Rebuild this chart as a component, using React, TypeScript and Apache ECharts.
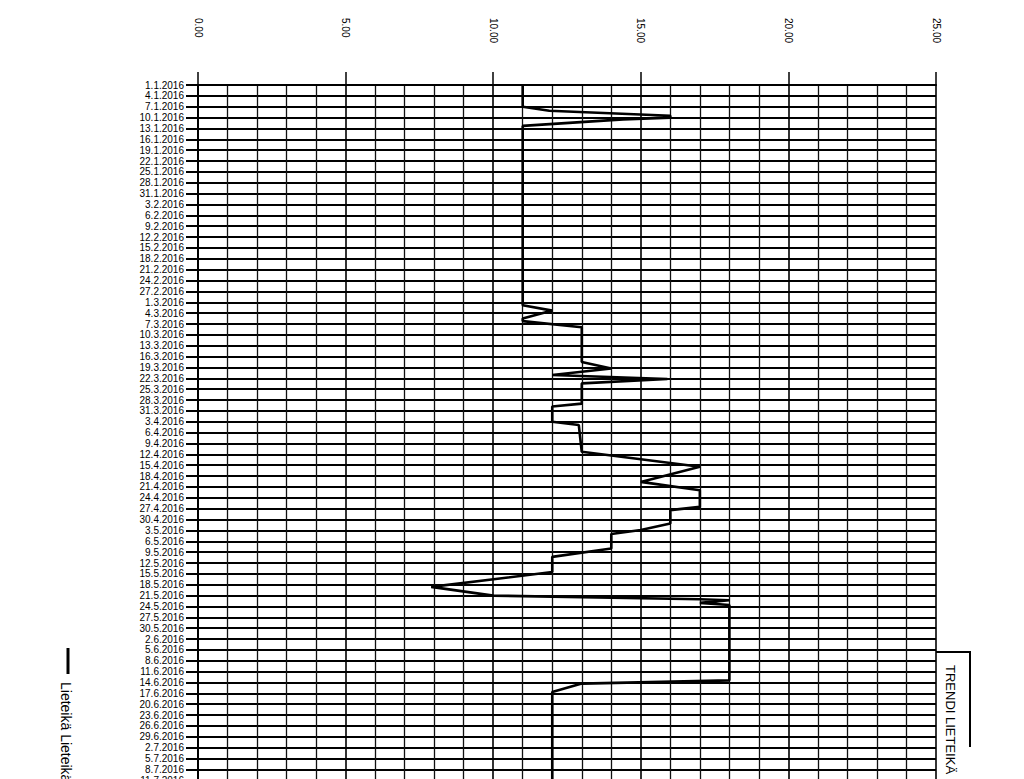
import React, { useEffect, useRef } from "react";
import * as echarts from "echarts";

// Tick labels of the date axis (every 3rd day from 1.1.2016)
const dateLabels = [
  "1.1.2016", "4.1.2016", "7.1.2016", "10.1.2016", "13.1.2016", "16.1.2016", "19.1.2016", "22.1.2016", "25.1.2016", "28.1.2016", "31.1.2016",
  "3.2.2016", "6.2.2016", "9.2.2016", "12.2.2016", "15.2.2016", "18.2.2016", "21.2.2016", "24.2.2016", "27.2.2016",
  "1.3.2016", "4.3.2016", "7.3.2016", "10.3.2016", "13.3.2016", "16.3.2016", "19.3.2016", "22.3.2016", "25.3.2016", "28.3.2016", "31.3.2016",
  "3.4.2016", "6.4.2016", "9.4.2016", "12.4.2016", "15.4.2016", "18.4.2016", "21.4.2016", "24.4.2016", "27.4.2016", "30.4.2016",
  "3.5.2016", "6.5.2016", "9.5.2016", "12.5.2016", "15.5.2016", "18.5.2016", "21.5.2016", "24.5.2016", "27.5.2016", "30.5.2016",
  "2.6.2016", "5.6.2016", "8.6.2016", "11.6.2016", "14.6.2016", "17.6.2016", "20.6.2016", "23.6.2016", "26.6.2016", "29.6.2016",
  "2.7.2016", "5.7.2016", "8.7.2016", "11.7.2016", "14.7.2016", "17.7.2016",
];

// Value axis ticks
const valueTicks = [0, 5, 10, 15, 20, 25];

// Measurements: day offset from 1.1.2016 and value (Lieteikä)
const days = [
  0, 6, 7.1, 8.5, 9, 9.5, 11.3,
  60.8, 62.3, 64.5, 65.2, 66.9,
  76.5, 78.3, 80.1, 81.2, 82.4,
  88.0, 88.8, 93.0, 93.9, 101.3,
  105.4, 109.6, 111.9, 116.5, 117.4, 121.1, 122.9, 124.0, 128.0, 130.3,
  134.5, 138.6, 141.0, 142.0, 142.3, 143.0, 143.6,
  164.4, 165.3, 167.6, 198,
];
const values = [
  11, 11, 11.9, 16, 16, 14.4, 11,
  11, 12, 11, 11, 13,
  13, 14, 12, 15.9, 13,
  13, 12, 12, 12.9, 13,
  17, 15, 17, 17, 16, 16, 15, 14, 14, 12,
  12, 7.9, 10, 17, 18, 17, 18,
  18, 13, 12, 12,
];

const seriesName = "Lieteikä";

export default function App() {
  const ref = useRef<HTMLDivElement>(null);

  useEffect(() => {
    if (!ref.current) return;
    const chart = echarts.init(ref.current, null, { renderer: "svg" });
    const points = days.map((d, i) => [values[i], d]);
    const font = "Liberation Sans, Arial, sans-serif";
    chart.setOption({
      animation: false,
      backgroundColor: "#ffffff",
      grid: { left: 198, right: 88, top: 85, bottom: 18, containLabel: false },
      xAxis: {
        type: "value",
        position: "top",
        min: valueTicks[0],
        max: valueTicks[valueTicks.length - 1],
        interval: 5,
        axisLine: { show: true, lineStyle: { color: "#000", width: 2 } },
        axisTick: { show: true, inside: false, length: 13, lineStyle: { color: "#000", width: 1.5 } },
        minorTick: { show: false, splitNumber: 5 },
        splitLine: { show: true, lineStyle: { color: "#000", width: 1.6 } },
        minorSplitLine: { show: true, lineStyle: { color: "#111", width: 1.3 } },
        axisLabel: {
          rotate: -90,
          margin: 67,
          align: "left",
          verticalAlign: "middle",
          fontFamily: font,
          fontSize: 10,
          color: "#000",
          formatter: (v: number) => v.toFixed(2),
        },
      },
      yAxis: {
        type: "value",
        inverse: true,
        min: 0,
        max: (dateLabels.length - 1) * 3,
        interval: 3,
        axisLine: { show: true, lineStyle: { color: "#000", width: 2 } },
        axisTick: { show: true, inside: false, length: 12, lineStyle: { color: "#000", width: 2 } },
        splitLine: { show: true, lineStyle: { color: "#000", width: 2 } },
        axisLabel: {
          margin: 14,
          fontFamily: font,
          fontSize: 10,
          color: "#000",
          hideOverlap: false,
          formatter: (v: number) => dateLabels[Math.round(v / 3)] ?? "",
        },
      },
      graphic: [
        { type: "line", shape: { x1: 68, y1: 648, x2: 68, y2: 674 }, style: { stroke: "#000", lineWidth: 3 } },
        {
          type: "text",
          x: 66,
          y: 682,
          rotation: -Math.PI / 2,
          style: { text: `${seriesName} ${seriesName}`, fontFamily: font, fontSize: 14, fill: "#000", align: "left", verticalAlign: "middle" },
        },
        { type: "polyline", shape: { points: [[936, 652], [970, 652], [970, 747]] }, style: { stroke: "#000", lineWidth: 2, fill: "none" } },
        {
          type: "text",
          x: 950,
          y: 665,
          rotation: -Math.PI / 2,
          style: { text: "TRENDI LIETEIKÄ", fontFamily: font, fontSize: 13, fill: "#000", align: "left", verticalAlign: "middle" },
        },
      ],
      series: [
        {
          name: seriesName,
          type: "line",
          data: points,
          showSymbol: false,
          symbol: "none",
          lineStyle: { color: "#000", width: 2.6 },
          z: 5,
        },
      ],
    });
    return () => chart.dispose();
  }, []);

  return (
    <div style={{ position: "fixed", left: 0, top: 0, width: 1024, height: 779, overflow: "hidden", background: "#fff" }}>
      <div ref={ref} style={{ width: 1024, height: 820 }} />
    </div>
  );
}
